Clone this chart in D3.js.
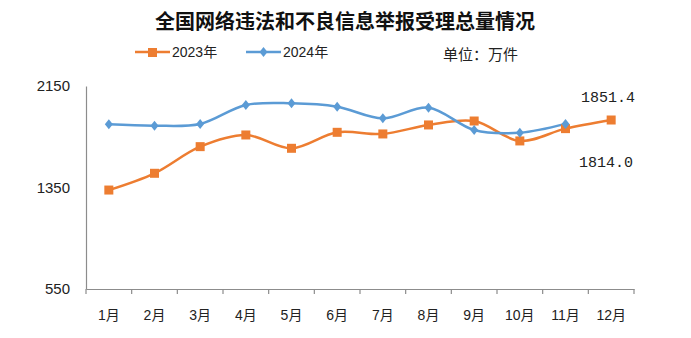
<!DOCTYPE html>
<html><head><meta charset="utf-8">
<script src="https://cdn.jsdelivr.net/npm/d3@7"></script>
<style>
html,body{margin:0;padding:0;background:#fff;}
svg{display:block;}
</style></head>
<body>
<svg id="c" width="691" height="338"></svg>
<script>
const title = "全国网络违法和不良信息举报受理总量情况";
const months = ["1月","2月","3月","4月","5月","6月","7月","8月","9月","10月","11月","12月"];
const seriesNames = ["2023年","2024年"];
const values2023 = [1330,1462,1672,1764,1659,1785,1772,1843,1874,1717,1814.0,1882];
const values2024 = [1848,1837,1851,2000,2014,1987,1895,1979,1803,1782,1851.4];
const yTicks = [550,1350,2150];
const unitText = "单位：万件";
const labels = [{series:1, idx:10, text:"1851.4"},{series:0, idx:10, text:"1814.0"}];

const svg = d3.select("#c");
const L=86, R=634, T=86, B=289;
const x = d3.scaleBand().domain(months).range([L,R]);
const xi = d3.scaleLinear().domain([0,12]).range([L,R]);
const y = d3.scaleLinear().domain([550,2150]).range([B,T]);
const cjk = "'Liberation Sans','Noto Sans CJK SC',sans-serif";

svg.append("text").attr("x",345).attr("y",29).attr("text-anchor","middle")
  .attr("font-family","'Noto Sans CJK SC',sans-serif").attr("font-weight","bold")
  .attr("font-size",20).attr("fill","#111").text(title);

// legend
const colors = ["#ED7D31","#5B9BD5"];
const lg = [{x:135,tx:172},{x:246,tx:283}];
lg.forEach((p,i)=>{
  svg.append("line").attr("x1",p.x).attr("x2",p.x+35).attr("y1",52).attr("y2",52)
    .attr("stroke",colors[i]).attr("stroke-width",2.5);
  if(i===0) svg.append("rect").attr("x",p.x+13).attr("y",48).attr("width",9).attr("height",9).attr("fill",colors[i]);
  else svg.append("path").attr("transform",`translate(${p.x+17.5},52)`).attr("d","M0,-5L4,0L0,5L-4,0Z").attr("fill",colors[i]);
  svg.append("text").attr("x",p.tx).attr("y",57).attr("font-family",cjk).attr("font-size",14)
    .attr("fill","#222").text(seriesNames[i]);
});
svg.append("text").attr("x",443).attr("y",60).attr("font-family","'Noto Sans CJK SC',sans-serif")
  .attr("font-size",15).attr("fill","#222").text(unitText);

// axes
const ya = svg.append("g").attr("transform",`translate(${L},0)`)
  .call(d3.axisLeft(y).tickValues(yTicks).tickSize(0).tickPadding(16).tickFormat(d3.format("d")));
ya.select(".domain").attr("stroke","#8c8c8c").attr("stroke-width",1.2);
ya.selectAll("text").attr("font-family","'Liberation Sans',Arial,sans-serif").attr("font-size",15).attr("fill","#222");

const xa = svg.append("g").attr("transform",`translate(0,${B})`)
  .call(d3.axisBottom(x).tickSize(0).tickPadding(21));
xa.select(".domain").attr("stroke","#8c8c8c").attr("stroke-width",1.2);
xa.selectAll("text").attr("font-family",cjk).attr("font-size",14).attr("fill","#222");
svg.append("g").selectAll("line").data(d3.range(13)).join("line")
  .attr("x1",d=>xi(d)).attr("x2",d=>xi(d)).attr("y1",B).attr("y2",B+5)
  .attr("stroke","#8c8c8c").attr("stroke-width",1.2);

// lines
const line = d3.line().x((d,i)=>x(months[i])+x.bandwidth()/2).y(d=>y(d)).curve(d3.curveCatmullRom.alpha(0.5));
const data = [values2023, values2024];
data.forEach((vals,s)=>{
  svg.append("path").attr("d",line(vals)).attr("fill","none").attr("stroke",colors[s]).attr("stroke-width",2.5);
});
// markers
svg.append("g").selectAll("rect").data(values2023).join("rect")
  .attr("x",(d,i)=>x(months[i])+x.bandwidth()/2-4.5).attr("y",d=>y(d)-4.5)
  .attr("width",9).attr("height",9).attr("fill",colors[0]);
svg.append("g").selectAll("path").data(values2024).join("path")
  .attr("transform",(d,i)=>`translate(${x(months[i])+x.bandwidth()/2},${y(d)})`)
  .attr("d","M0,-5L4,0L0,5L-4,0Z").attr("fill",colors[1]);

// data labels
svg.append("text").attr("x",581).attr("y",102).attr("font-family","'Liberation Mono',monospace")
  .attr("font-size",15).attr("fill","#222").text(labels[0].text);
svg.append("text").attr("x",579).attr("y",167).attr("font-family","'Liberation Mono',monospace")
  .attr("font-size",15).attr("fill","#222").text(labels[1].text);
</script>
</body></html>
